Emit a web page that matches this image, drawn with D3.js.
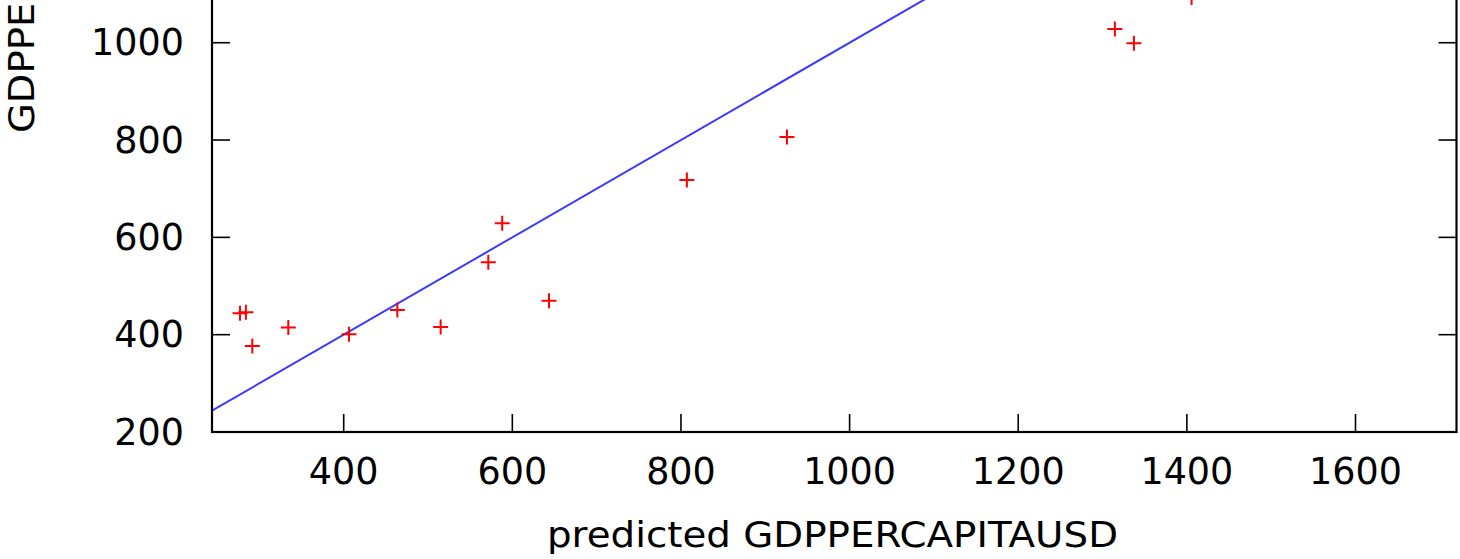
<!DOCTYPE html>
<html><head><meta charset="utf-8">
<script src="https://cdn.jsdelivr.net/npm/d3@7"></script>
<style>html,body{margin:0;padding:0;background:#fff;overflow:hidden}svg{display:block}</style>
</head><body>
<script>
const predicted = [277, 284, 291.6, 334.3, 406.3, 463.6, 515, 571.5, 588, 643.5, 807, 925.7, 1314.6, 1337.2, 1405.6];
const actual    = [444, 446, 376.7, 415, 400.8, 450.7, 415.8, 548.7, 628.9, 469.8, 717.9, 806.2, 1028.2, 998.8, 1093];
const xTicks = [400, 600, 800, 1000, 1200, 1400, 1600];
const yTicks = [200, 400, 600, 800, 1000, 1200, 1400, 1600, 1800, 2000, 2200];
const xDomain = [243.8, 1719.8];
const yDomain = [200, 2200];
const xLabel = "predicted GDPPERCAPITAUSD";
const yLabel = "GDPPERCAPITAUSD";

const W = 1460, H = 559;
const svg = d3.select("body").append("svg").attr("width", W).attr("height", H);
const x = d3.scaleLinear().domain(xDomain).range([212, 1456.5]);
const y = d3.scaleLinear().domain(yDomain).range([432, 432 - 2000 * 0.4866]);
const font = "'DejaVu Sans', Verdana, sans-serif";
const fs = 36.5;
const tickLen = 18;

const [x0, x1] = x.range();
const [y0, y1] = y.range();

svg.append("clipPath").attr("id", "clip").append("rect")
  .attr("x", x0).attr("y", y1).attr("width", x1 - x0).attr("height", y0 - y1);

// ticks (inward, mirrored)
const g = svg.append("g");
g.selectAll(".xt").data(xTicks).join("line")
  .attr("x1", d => x(d)).attr("x2", d => x(d))
  .attr("y1", y0).attr("y2", y0 - tickLen)
  .attr("stroke", "#000").attr("stroke-width", 1.6);
g.selectAll(".xt2").data(xTicks).join("line")
  .attr("x1", d => x(d)).attr("x2", d => x(d))
  .attr("y1", y1).attr("y2", y1 + tickLen)
  .attr("stroke", "#000").attr("stroke-width", 1.6);
g.selectAll(".yt").data(yTicks).join("line")
  .attr("x1", x0).attr("x2", x0 + tickLen)
  .attr("y1", d => y(d)).attr("y2", d => y(d))
  .attr("stroke", "#000").attr("stroke-width", 1.6);
g.selectAll(".yt2").data(yTicks).join("line")
  .attr("x1", x1).attr("x2", x1 - tickLen)
  .attr("y1", d => y(d)).attr("y2", d => y(d))
  .attr("stroke", "#000").attr("stroke-width", 1.6);

// tick labels (only those inside the photographed window)
g.selectAll(".xl").data(xTicks).join("text")
  .attr("x", d => x(d)).attr("y", 484)
  .attr("text-anchor", "middle").attr("font-family", font).attr("font-size", fs)
  .attr("fill", "#000").text(d => d);
g.selectAll(".yl").data(yTicks.filter(d => y(d) > 20)).join("text")
  .attr("x", 184).attr("y", d => y(d) + 12.5)
  .attr("text-anchor", "end").attr("font-family", font).attr("font-size", fs)
  .attr("fill", "#000").text(d => d);

// axis labels
svg.append("text").attr("x", 547).attr("y", 547)
  .attr("text-anchor", "start").attr("font-family", font).attr("font-size", 36)
  .attr("textLength", 571).attr("lengthAdjust", "spacingAndGlyphs")
  .attr("fill", "#000").text(xLabel);
svg.append("text").attr("transform", "translate(34,133) rotate(-90)")
  .attr("text-anchor", "start").attr("font-family", font).attr("font-size", 36)
  .attr("textLength", 372).attr("lengthAdjust", "spacingAndGlyphs")
  .attr("fill", "#000").text(yLabel);

// y = x reference line
const lo = Math.max(xDomain[0], yDomain[0]), hi = Math.min(xDomain[1], yDomain[1]);
svg.append("path").attr("clip-path", "url(#clip)")
  .attr("d", d3.line().x(d => x(d)).y(d => y(d))([lo, hi]))
  .attr("stroke", "#3a3aff").attr("stroke-width", 2).attr("fill", "none");

// points
const pts = predicted.map((p, i) => [p, actual[i]]);
const s = 7.5;
svg.append("g").attr("clip-path", "url(#clip)").selectAll("path").data(pts).join("path")
  .attr("d", d => `M${x(d[0]) - s},${y(d[1])}H${x(d[0]) + s}M${x(d[0])},${y(d[1]) - s}V${y(d[1]) + s}`)
  .attr("stroke", "#ff0000").attr("stroke-width", 2).attr("fill", "none");

// border
svg.append("rect").attr("x", x0).attr("y", y1).attr("width", x1 - x0).attr("height", y0 - y1)
  .attr("fill", "none").attr("stroke", "#000").attr("stroke-width", 2.2);
</script>
</body></html>
